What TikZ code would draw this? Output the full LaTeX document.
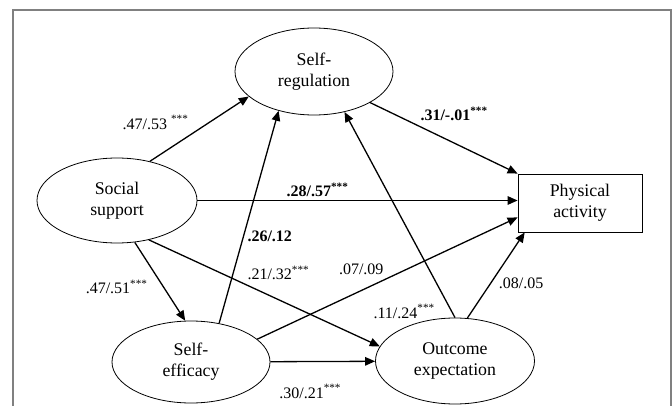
\documentclass[tikz,border=0pt]{standalone}
\usepackage{fontspec}
\setmainfont{Liberation Serif}
\usetikzlibrary{shapes.geometric,arrows.meta}
\begin{document}
\begin{tikzpicture}[x=1pt,y=-1pt,
  latent/.style={draw,ellipse,line width=0.8pt,align=center,inner sep=0pt,font=\fontsize{17.8}{21}\selectfont},
  observed/.style={draw,rectangle,line width=0.8pt,align=center,minimum width=124pt,minimum height=58pt,font=\fontsize{17.8}{21}\selectfont},
  effect/.style={-{Triangle[length=10pt,width=8.5pt]},line width=1.3pt},
  coef/.style={font=\fontsize{16}{19}\selectfont}]
\useasboundingbox (0,0) rectangle (672,406);
\draw[gray,line width=1.3pt] (13,406) |- (671,10) -- (671,406);

\path (314,71.5) node[latent,minimum width=158pt,minimum height=87pt](selfreg){Self-\\regulation} (117,200.5) node[latent,minimum width=160pt,minimum height=85pt](support){Social\\support} (191,362) node[latent,minimum width=158pt,minimum height=82pt](efficacy){Self-\\efficacy} (455,361) node[latent,minimum width=159pt,minimum height=86pt](outcome){Outcome\\expectation} (580,203) node[observed](activity){Physical\\activity};

\draw[effect] (support.50) -- node[coef,pos=0.43,above left]{.47/.53 \textsuperscript{***}} (selfreg.201);
\draw[effect] (efficacy.54) -- node[coef,pos=0.41,right]{\textbf{.26/.12}} (selfreg.228);
\draw[effect] (support.east) -- node[coef,pos=0.375,above]{\textbf{.28/.57\textsuperscript{***}}} (support.east -| activity.west);
\draw[effect] (selfreg.331) -- node[coef,pos=0.315,above right]{\textbf{.31/-.01\textsuperscript{***}}} (activity.north west);
\draw[effect] (support.293) -- node[coef,pos=0.57,left=12pt]{.47/.51\textsuperscript{***}} (efficacy.98);
\draw[effect] (support.309) -- node[coef,pos=0.41,above right]{.21/.32\textsuperscript{***}} (outcome.169);
\draw[effect] (efficacy.19) -- node[coef,pos=0.50,above left]{.07/.09} (activity.193);
\draw[effect] (outcome.90) -- node[coef,pos=0.03,left=13pt]{.11/.24\textsuperscript{***}} (selfreg.307);
\draw[effect] (outcome.74) -- node[coef,pos=0.41,right=4pt]{.08/.05} (activity.208);
\draw[effect] (efficacy) -- node[coef,pos=0.38,below=19pt]{.30/.21\textsuperscript{***}} (outcome);
\end{tikzpicture}
\end{document}
